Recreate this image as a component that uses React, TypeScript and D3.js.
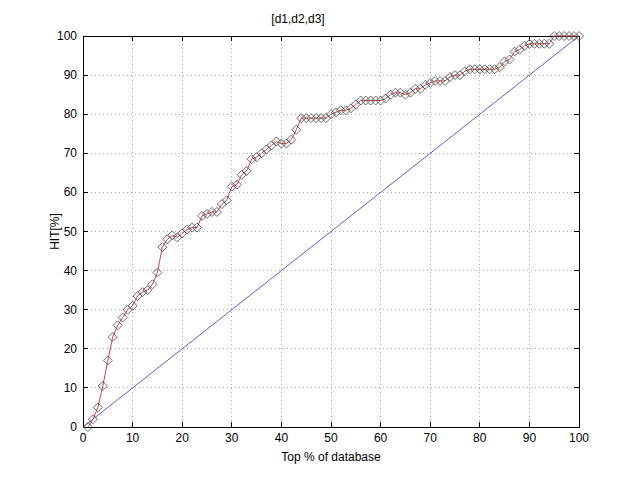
import React from "react";
import * as d3 from "d3";

const hitValues: number[] = [
  0, 2, 5, 10.5, 17, 23, 26, 28, 30, 31,
  33.5, 34.5, 35, 36.5, 39.5, 46, 48, 49, 48.5, 49.5,
  50.5, 51, 51, 54, 54.5, 55, 55, 57, 58, 61.5,
  62, 64.5, 65.5, 68.5, 69, 70, 71, 72, 73, 72.5,
  72.5, 73.5, 76, 79, 79, 79, 79, 79, 79, 80,
  80.5, 81, 81, 81.5, 82.5, 83.5, 83.5, 83.5, 83.5, 83.5,
  84, 85, 85.5, 85.5, 85, 85.5, 86.5, 86.5, 87.5, 88,
  88.5, 88.5, 88.5, 89.5, 90, 90, 91, 91.5, 91.5, 91.5,
  91.5, 91.5, 91.5, 92, 93.5, 94, 96, 96.5, 97.5, 98,
  98, 98, 98, 98, 100, 100, 100, 100, 100, 100,
];
const topPercent: number[] = hitValues.map((_, i) => i + 1);
const diagX: number[] = [0, 100];
const diagY: number[] = [0, 100];
const ticks: number[] = [0, 10, 20, 30, 40, 50, 60, 70, 80, 90, 100];
const titleText = "[d1,d2,d3]";
const xLabelText = "Top % of database";
const yLabelText = "HIT[%]";

export default function App() {
  const W = 640, H = 480;
  const left = 83, right = 579, top = 36, bottom = 427;
  const x = d3.scaleLinear().domain([0, 100]).range([left, right]);
  const y = d3.scaleLinear().domain([0, 100]).range([bottom, top]);
  const font = "Liberation Sans, Arial, sans-serif";

  const redLine = d3
    .line<number>()
    .x((_, i) => x(topPercent[i]))
    .y((d) => y(d))(hitValues) as string;
  const blueLine = d3
    .line<number>()
    .x((d) => x(d))
    .y((_, i) => y(diagY[i]))(diagX) as string;

  const dm = 4.5;
  return (
    <svg
      width={W}
      height={H}
      style={{ position: "absolute", left: 0, top: 0, background: "#fff" }}
    >
      <rect x={0} y={0} width={W} height={H} fill="#fff" />
      {ticks.slice(1, -1).map((t) => (
        <g key={"g" + t}>
          <line x1={x(t)} x2={x(t)} y1={top} y2={bottom} stroke="#aaa" strokeWidth={1} strokeDasharray="1,3" shapeRendering="crispEdges" />
          <line x1={left} x2={right} y1={y(t)} y2={y(t)} stroke="#aaa" strokeWidth={1} strokeDasharray="1,3" shapeRendering="crispEdges" />
        </g>
      ))}
      {ticks.map((t) => (
        <g key={"t" + t} stroke="#000" shapeRendering="crispEdges">
          <line x1={x(t)} x2={x(t)} y1={bottom} y2={bottom - 5} />
          <line x1={x(t)} x2={x(t)} y1={top} y2={top + 5} />
          <line x1={left} x2={left + 5} y1={y(t)} y2={y(t)} />
          <line x1={right} x2={right - 5} y1={y(t)} y2={y(t)} />
        </g>
      ))}
      <rect x={left} y={top} width={right - left} height={bottom - top} fill="none" stroke="#000" strokeWidth={1} shapeRendering="crispEdges" />
      <path d={blueLine} fill="none" stroke="#3333cc" strokeWidth={0.8} />
      <path d={redLine} fill="none" stroke="#d84040" strokeWidth={1} />
      {hitValues.map((v, i) => {
        const cx = x(topPercent[i]);
        const cy = y(v);
        return (
          <path
            key={"m" + i}
            d={`M${cx},${cy - dm}L${cx + dm},${cy}L${cx},${cy + dm}L${cx - dm},${cy}Z`}
            fill="none"
            stroke="#444"
            strokeWidth={0.8}
          />
        );
      })}
      {ticks.map((t) => (
        <text key={"xl" + t} x={x(t)} y={bottom + 15} textAnchor="middle" fontFamily={font} fontSize={12} fill="#000">
          {t}
        </text>
      ))}
      {ticks.map((t) => (
        <text key={"yl" + t} x={left - 6} y={y(t) + 4} textAnchor="end" fontFamily={font} fontSize={12} fill="#000">
          {t}
        </text>
      ))}
      <text x={298} y={23} textAnchor="middle" fontFamily={font} fontSize={12} fill="#000">
        {titleText}
      </text>
      <text x={(left + right) / 2} y={461} textAnchor="middle" fontFamily={font} fontSize={12} fill="#000">
        {xLabelText}
      </text>
      <text
        transform={`translate(59,${(top + bottom) / 2}) rotate(-90)`}
        textAnchor="middle"
        fontFamily={font}
        fontSize={12}
        fill="#000"
      >
        {yLabelText}
      </text>
    </svg>
  );
}
